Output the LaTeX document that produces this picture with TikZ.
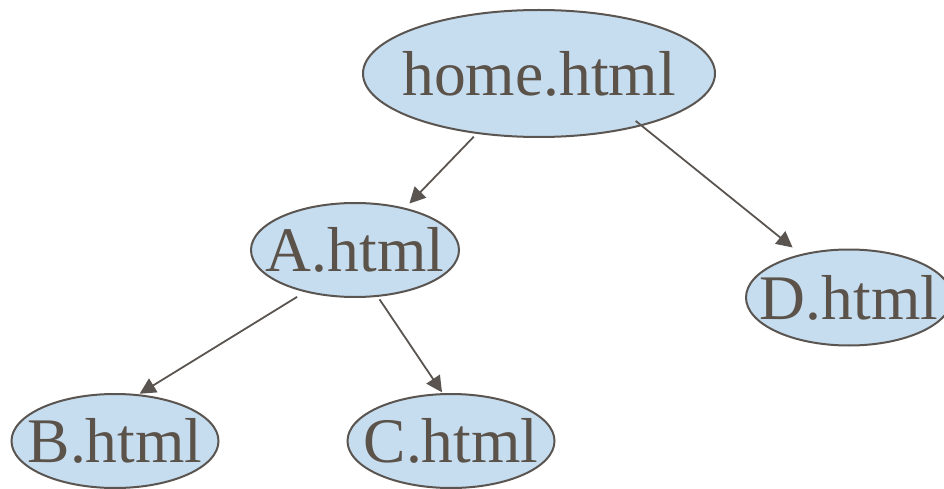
\documentclass[tikz,border=0pt]{standalone}
\usepackage{fontspec}
\setmainfont{Liberation Serif}
\usetikzlibrary{arrows.meta,shapes.geometric}
\definecolor{pagefill}{HTML}{C6DCEF}
\definecolor{inkline}{HTML}{5A5550}
\definecolor{inktext}{HTML}{5B5249}
% ellipse size is set by minimum width/height; the label is kept zero-width
% so that it does not stretch the shape
\newcommand{\pagelabel}[1]{\makebox[0pt]{#1}}
\tikzset{
  page/.style={ellipse, draw=inkline, line width=2pt, fill=pagefill,
    inner sep=0pt, text=inktext, font=\fontsize{63.5}{64}\selectfont},
  link/.style={draw=inkline, line width=1.8pt,
    -{Triangle[length=16pt,width=16pt]}}
}
\begin{document}
\begin{tikzpicture}[x=1pt,y=-1pt]
  \useasboundingbox (0,0) rectangle (944,489);
  \node[page, minimum width=352pt, minimum height=127pt] (home) at (539,73.5) {\pagelabel{home.html}};
  \node[page, minimum width=208pt, minimum height=94pt] (A) at (355,250) {\pagelabel{A.html}};
  \node[page, minimum width=206pt, minimum height=96pt] (D) at (849,297.5) {\pagelabel{D.html}};
  \node[page, minimum width=207pt, minimum height=94pt] (B) at (115,441) {\pagelabel{B.html}};
  \node[page, minimum width=207pt, minimum height=94pt] (C) at (451,441) {\pagelabel{C.html}};
  \draw[link, shorten <=4pt, shorten >=6pt] (home.224.8) -- (A.40.4);
  \draw[link, shorten <=-8pt, shorten >=10.5pt] (home.333.3) -- (D.138.6);
  \draw[link, shorten <=9pt, shorten >=1pt] (A.220.3) -- (B.63.9);
  \draw[link, shorten <=3pt, shorten >=1pt] (A.296.7) -- (C.100.6);
\end{tikzpicture}
\end{document}
